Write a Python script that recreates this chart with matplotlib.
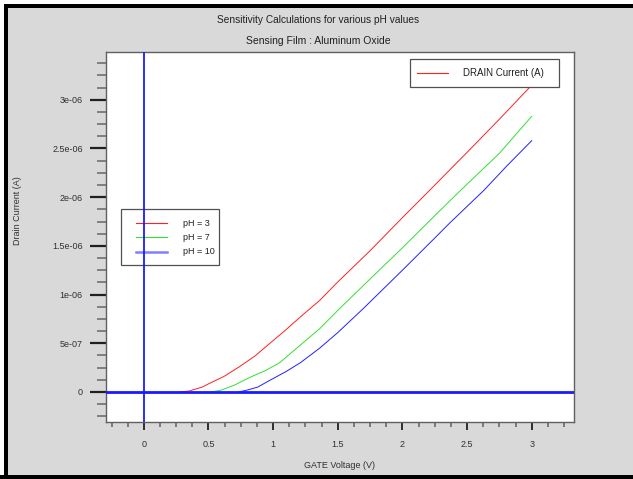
#!/usr/bin/env python3
"""Drain current vs gate voltage for three pH values (Aluminum Oxide sensing film)."""

import matplotlib

matplotlib.use("Agg")

import matplotlib.pyplot as plt
from matplotlib.lines import Line2D
from matplotlib.patches import Rectangle
from matplotlib.ticker import MultipleLocator, FuncFormatter


# values (V, A*1e-6)
PH3_V = [0.27, 0.35, 0.45, 0.51, 0.62, 0.74, 0.86, 0.975, 1.1, 1.21, 1.36, 1.5,
         1.75, 2.0, 2.21, 2.5, 2.75, 3.0]
PH3_I = [0.0, 0.01, 0.05, 0.09, 0.16, 0.26, 0.37, 0.50, 0.64, 0.77, 0.94, 1.13,
         1.45, 1.79, 2.07, 2.46, 2.80, 3.15]
PH7_V = [0.52, 0.6, 0.7, 0.82, 0.94, 1.05, 1.2, 1.36, 1.517, 1.75, 2.0, 2.25,
         2.45, 2.75, 3.0]
PH7_I = [0.0, 0.02, 0.07, 0.15, 0.22, 0.30, 0.47, 0.65, 0.86, 1.16, 1.48, 1.81,
         2.07, 2.45, 2.83]
PH10_V = [0.73, 0.8, 0.88, 0.975, 1.1, 1.21, 1.36, 1.5, 1.7, 2.0, 2.25, 2.37,
          2.63, 2.8, 3.0]
PH10_I = [0.0, 0.02, 0.05, 0.12, 0.21, 0.30, 0.45, 0.61, 0.86, 1.25, 1.58, 1.74,
          2.07, 2.31, 2.58]
PH_LABELS = ["pH = 3", "pH = 7", "pH = 10"]
PH_COLORS = ["#ff2020", "#30e030", "#2020ff"]

Y_TICK_LABELS = {0: "0", 1: "5e-07", 2: "1e-06", 3: "1.5e-06", 4: "2e-06",
                 5: "2.5e-06", 6: "3e-06"}

BG = "#d9d9d9"
FONT = "Liberation Sans"


def fmt_y(val, pos):
    k = int(round(val / 0.5e-6))
    if abs(val - k * 0.5e-6) > 1e-9 or k < 0:
        return ""
    return Y_TICK_LABELS.get(k, "")


def fmt_x(val, pos):
    return f"{val:g}"


def draw_key(fig, ax, box, entries, fontsize, zorder):
    """box = (x0, y0, x1, y1) in figure pixels measured from top-left."""
    W, H = fig.get_size_inches() * fig.dpi
    x0, y0, x1, y1 = box
    ax.add_patch(Rectangle((x0 / W, 1 - y1 / H), (x1 - x0) / W, (y1 - y0) / H,
                           transform=fig.transFigure, facecolor="white",
                           edgecolor="#505050", linewidth=0.9, zorder=zorder,
                           clip_on=False))
    for (lx0, lx1, ly, tx, label, color, lw) in entries:
        ax.add_line(Line2D([lx0 / W, lx1 / W], [1 - ly / H, 1 - ly / H],
                           transform=fig.transFigure, color=color,
                           linewidth=lw, zorder=zorder + 0.1, clip_on=False))
        ax.text(tx / W, 1 - ly / H, label, fontsize=fontsize, family=FONT,
                color="#202020", va="center", ha="left", zorder=zorder + 0.1,
                transform=fig.transFigure)


def main():
    fig = plt.figure(figsize=(6.33, 4.79), dpi=100, facecolor=BG)
    ax = fig.add_axes([105.7 / 633, 1 - 422 / 479, 468.3 / 633, 370 / 479])
    ax.set_facecolor("white")

    series = [(PH3_V, PH3_I), (PH7_V, PH7_I), (PH10_V, PH10_I)]
    for (v, i), color in zip(series, PH_COLORS):
        ax.plot(v, [x * 1e-6 for x in i], color=color, linewidth=0.7, zorder=3)

    ax.axhline(0, color="#1a1aff", linewidth=2.0, zorder=6)
    ax.axvline(0, color="#1a1aff", linewidth=1.3, zorder=6)

    ax.set_xlim(-0.295, 3.327)
    ax.set_ylim(-0.308e-6, 3.49e-6)

    ax.xaxis.set_major_locator(MultipleLocator(0.5))
    ax.xaxis.set_minor_locator(MultipleLocator(0.125))
    ax.yaxis.set_major_locator(MultipleLocator(0.5e-6))
    ax.yaxis.set_minor_locator(MultipleLocator(0.125e-6))
    ax.xaxis.set_major_formatter(FuncFormatter(fmt_x))
    ax.yaxis.set_major_formatter(FuncFormatter(fmt_y))

    ax.tick_params(axis="x", which="major", direction="out", length=6, width=1.3,
                   color="#202020", pad=7, labelsize=6.5)
    ax.tick_params(axis="x", which="minor", direction="out", length=3.5, width=1.1,
                   color="#606060")
    ax.tick_params(axis="y", which="major", direction="out", length=11.5, width=1.6,
                   color="#202020", pad=5, labelsize=6.5)
    ax.tick_params(axis="y", which="minor", direction="out", length=6.5, width=1.2,
                   color="#707070")
    for lab in ax.get_xticklabels() + ax.get_yticklabels():
        lab.set_family(FONT)
        lab.set_color("#303030")

    for spine in ax.spines.values():
        spine.set_color("#606060")
        spine.set_linewidth(1.0)

    fig.text(318 / 633, 1 - 20 / 479, "Sensitivity Calculations for various pH values",
             ha="center", va="center", fontsize=7.3, family=FONT, color="#202020")
    fig.text(318 / 633, 1 - 41 / 479, "Sensing Film : Aluminum Oxide",
             ha="center", va="center", fontsize=7.5, family=FONT, color="#202020")
    fig.text(340 / 633, 1 - 466 / 479, "GATE Voltage (V)", ha="center", va="center",
             fontsize=6.5, family=FONT, color="#303030")
    fig.text(18 / 633, 1 - 211 / 479, "Drain Current (A)", ha="center", va="center",
             rotation=90, fontsize=6.5, family=FONT, color="#303030")

    # pH key sits under the x=0 line, current key sits over the curves
    draw_key(fig, ax, (121, 209, 219, 265), [
        (136, 167, 223, 183, PH_LABELS[0], PH_COLORS[0], 0.8),
        (136, 167, 237, 183, PH_LABELS[1], PH_COLORS[1], 0.8),
        (136, 167, 252, 183, PH_LABELS[2], "#7f7fff", 1.8),
    ], fontsize=6.5, zorder=4)
    draw_key(fig, ax, (410, 59, 559, 87), [
        (417, 448, 73, 463, "DRAIN Current (A)", PH_COLORS[0], 0.8),
    ], fontsize=7, zorder=4)

    # window frame
    for rect in [(0, 0, 633, 4, "white"), (0, 4, 633, 7.5, "black"),
                 (0, 0, 4, 479, "white"), (4, 4, 8, 479, "black"),
                 (0, 475, 633, 479, "black")]:
        x0, y0, x1, y1, c = rect
        fig.add_artist(Rectangle((x0 / 633, 1 - y1 / 479), (x1 - x0) / 633, (y1 - y0) / 479,
                                 transform=fig.transFigure, facecolor=c,
                                 edgecolor="none", zorder=10))

    fig.savefig("out.png", dpi=100, facecolor=BG)
    plt.close(fig)


if __name__ == "__main__":
    main()
